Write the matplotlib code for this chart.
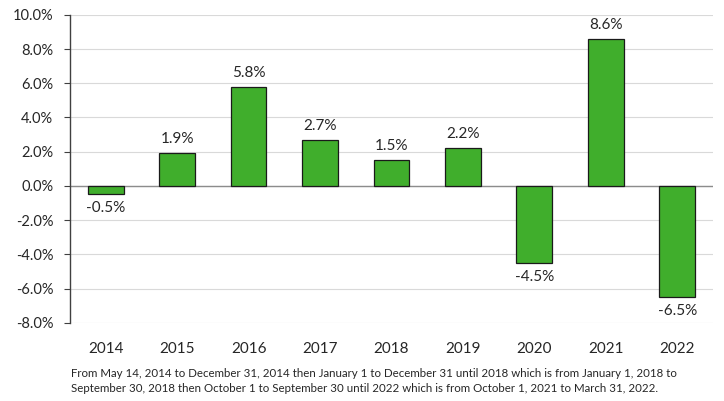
import matplotlib
matplotlib.use('Agg')
import matplotlib.pyplot as plt
from matplotlib.ticker import FuncFormatter

plt.rcParams['font.family'] = ['Lato', 'DejaVu Sans']

years = ['2014', '2015', '2016', '2017', '2018', '2019', '2020', '2021', '2022']
returns = [-0.5, 1.9, 5.8, 2.7, 1.5, 2.2, -4.5, 8.6, -6.5]
yticks = [-8, -6, -4, -2, 0, 2, 4, 6, 8, 10]
note = ('From May 14, 2014 to December 31, 2014 then January 1 to December 31 until 2018 which is from January 1, 2018 to\n'
        'September 30, 2018 then October 1 to September 30 until 2022 which is from October 1, 2021 to March 31, 2022.')

text_col = '#262626'

fig = plt.figure(figsize=(7.24, 4.01), dpi=100)
ax = fig.add_axes([0.0967, 0.195, 0.888, 0.768])

x = range(len(years))
ax.bar(x, returns, width=0.5, color='#40AE2C', edgecolor='#1a1a1a', linewidth=0.9, zorder=3)

for i, v in enumerate(returns):
    if v >= 0:
        ax.annotate(f'{v:.1f}%', (i, v), xytext=(0, 5), textcoords='offset points',
                    ha='center', va='bottom', fontsize=11, color=text_col)
    else:
        ax.annotate(f'{v:.1f}%', (i, v), xytext=(0, -5), textcoords='offset points',
                    ha='center', va='top', fontsize=11, color=text_col)

ax.set_xlim(-0.5, len(years) - 0.5)
ax.set_ylim(-8, 10)
ax.set_yticks(yticks)
ax.yaxis.set_major_formatter(FuncFormatter(lambda v, p: f'{v:.1f}%'))
ax.set_xticks(list(x))
ax.set_xticklabels(years)

ax.grid(axis='y', color='#d9d9d9', linewidth=0.8, zorder=0)
ax.axhline(0, color='#8c8c8c', linewidth=1.0, zorder=2)

for s in ['top', 'right', 'bottom']:
    ax.spines[s].set_visible(False)
ax.spines['left'].set_color('#404040')
ax.spines['left'].set_linewidth(1.0)

ax.tick_params(axis='y', length=4, color='#404040', pad=8, labelsize=10.5, labelcolor=text_col)
ax.tick_params(axis='x', length=0, pad=14, labelsize=11, labelcolor=text_col)

fig.text(0.098, 0.05, note, ha='left', va='center', fontsize=8.25, color=text_col, linespacing=1.5)

fig.savefig('out.png', dpi=100)
